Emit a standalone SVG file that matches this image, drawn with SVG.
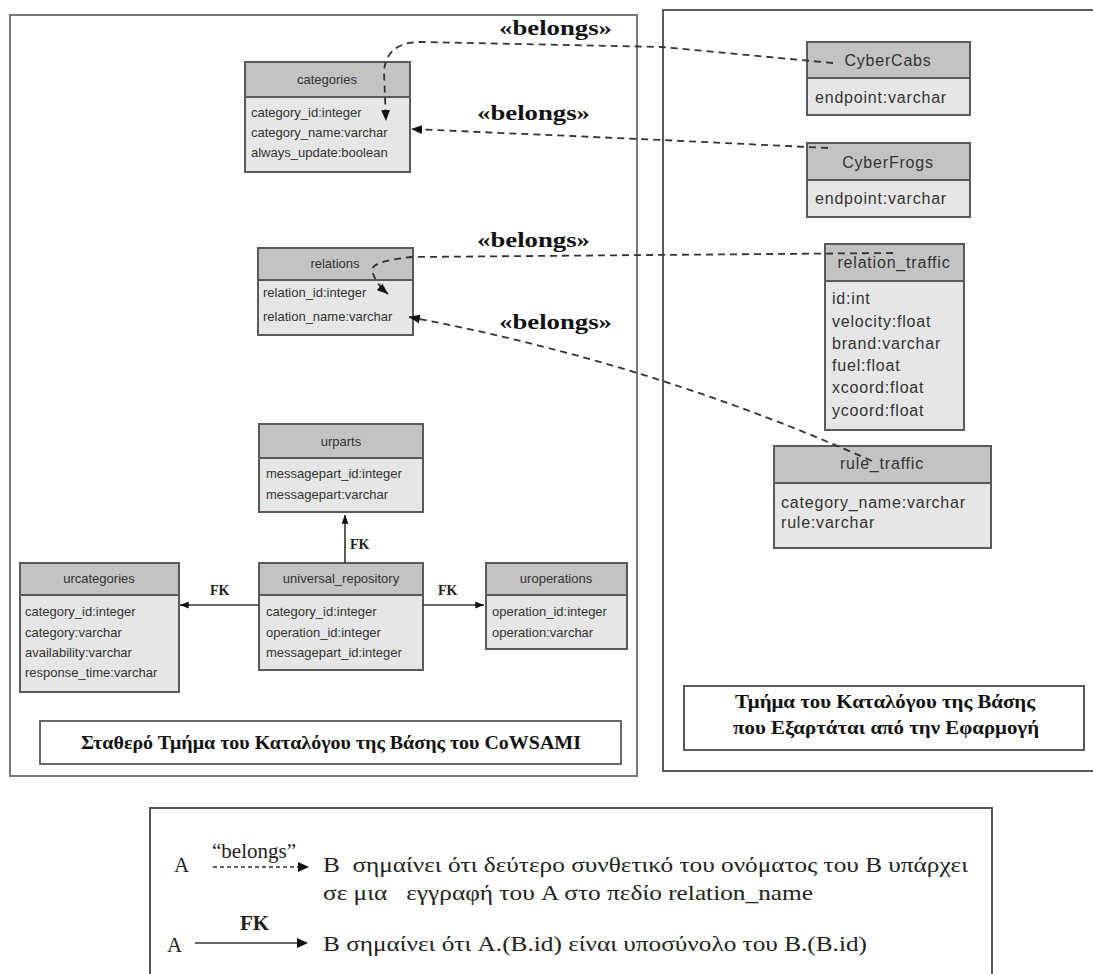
<svg xmlns="http://www.w3.org/2000/svg" width="1093" height="974" viewBox="0 0 1093 974">
  <style>
    .panel { fill: #ffffff; }
    .hdr { fill: #c3c3c3; stroke: #5a5a5a; stroke-width: 2; }
    .body { fill: #e6e6e6; stroke: #5a5a5a; stroke-width: 2; }
    .t { font-family: "Liberation Sans", Arial, sans-serif; font-size: 13px; fill: #333; }
    .tc { text-anchor: middle; }
    .tw { font-family: "Liberation Sans", Arial, sans-serif; font-size: 16px; fill: #333; letter-spacing: 0.8px; }
    .bel { font-family: "Liberation Serif", "Times New Roman", serif; font-size: 22px; font-weight: bold; fill: #111; }
    .fk { font-family: "Liberation Serif", "Times New Roman", serif; font-size: 14px; font-weight: bold; fill: #222; }
    .lbl { font-family: "Liberation Serif", "Times New Roman", serif; font-size: 18px; font-weight: bold; fill: #111; text-anchor: middle; }
    .leg { font-family: "Liberation Serif", "Times New Roman", serif; font-size: 21px; fill: #222; white-space: pre; }
    .dash { fill: none; stroke: #333; stroke-width: 1.8; stroke-dasharray: 7 5; }
    .solid { fill: none; stroke: #333; stroke-width: 1.6; }
  </style>
  <defs>
    <marker id="ah" viewBox="0 0 10 8" refX="10" refY="4" markerWidth="11" markerHeight="9" markerUnits="userSpaceOnUse" orient="auto">
      <path d="M0,0 L10,4 L0,8 z" fill="#111"/>
    </marker>
    <marker id="ahs" viewBox="0 0 10 8" refX="10" refY="4" markerWidth="9" markerHeight="7" markerUnits="userSpaceOnUse" orient="auto">
      <path d="M0,0 L10,4 L0,8 z" fill="#111"/>
    </marker>
  </defs>

  <rect width="1093" height="974" fill="#ffffff"/>

  <!-- fixed catalogue panel -->
  <g id="panel-fixed">
    <rect class="panel" x="10" y="15" width="627" height="761" stroke="#777" stroke-width="2"/>
    <rect x="40" y="721" width="581" height="43" fill="#fff" stroke="#444" stroke-width="1.6"/>
    <text class="lbl" x="331" y="749" textLength="500" lengthAdjust="spacingAndGlyphs">Σταθερό Τμήμα του Καταλόγου της Βάσης του CoWSAMI</text>
  </g>

  <!-- application dependent panel -->
  <g id="panel-app">
    <rect class="panel" x="663" y="10" width="445" height="761" stroke="#333" stroke-width="1.6"/>
    <rect x="684" y="686" width="400" height="64" fill="#fff" stroke="#333" stroke-width="1.6"/>
    <text class="lbl" x="885" y="708" textLength="300" lengthAdjust="spacingAndGlyphs">Τμήμα του Καταλόγου της Βάσης</text>
    <text class="lbl" x="886" y="734" textLength="306" lengthAdjust="spacingAndGlyphs">που Εξαρτάται από την Εφαρμογή</text>
  </g>

  <!-- tables -->
  <g id="categories">
    <rect class="body" x="245" y="62" width="165" height="110"/>
    <rect class="hdr" x="245" y="62" width="165" height="35"/>
    <text class="t tc" x="327" y="84">categories</text>
    <text class="t" x="251" y="117">category_id:integer</text>
    <text class="t" x="251" y="137">category_name:varchar</text>
    <text class="t" x="251" y="157">always_update:boolean</text>
  </g>

  <g id="relations">
    <rect class="body" x="258" y="248" width="155" height="87"/>
    <rect class="hdr" x="258" y="248" width="155" height="32"/>
    <text class="t tc" x="335" y="268">relations</text>
    <text class="t" x="263" y="297">relation_id:integer</text>
    <text class="t" x="263" y="321">relation_name:varchar</text>
  </g>

  <g id="urparts">
    <rect class="body" x="259" y="424" width="164" height="88"/>
    <rect class="hdr" x="259" y="424" width="164" height="34"/>
    <text class="t tc" x="341" y="446">urparts</text>
    <text class="t" x="266" y="478">messagepart_id:integer</text>
    <text class="t" x="266" y="499">messagepart:varchar</text>
  </g>

  <g id="universal_repository">
    <rect class="body" x="259" y="563" width="164" height="107"/>
    <rect class="hdr" x="259" y="563" width="164" height="32"/>
    <text class="t tc" x="341" y="583">universal_repository</text>
    <text class="t" x="266" y="616">category_id:integer</text>
    <text class="t" x="266" y="637">operation_id:integer</text>
    <text class="t" x="266" y="657">messagepart_id:integer</text>
  </g>

  <g id="urcategories">
    <rect class="body" x="20" y="563" width="159" height="129"/>
    <rect class="hdr" x="20" y="563" width="159" height="32"/>
    <text class="t tc" x="99" y="583">urcategories</text>
    <text class="t" x="25" y="616">category_id:integer</text>
    <text class="t" x="25" y="637">category:varchar</text>
    <text class="t" x="25" y="657">availability:varchar</text>
    <text class="t" x="25" y="677">response_time:varchar</text>
  </g>

  <g id="uroperations">
    <rect class="body" x="486" y="563" width="141" height="86"/>
    <rect class="hdr" x="486" y="563" width="141" height="32"/>
    <text class="t tc" x="556" y="583">uroperations</text>
    <text class="t" x="492" y="616">operation_id:integer</text>
    <text class="t" x="492" y="637">operation:varchar</text>
  </g>

  <g id="CyberCabs">
    <rect class="body" x="807" y="42" width="163" height="73"/>
    <rect class="hdr" x="807" y="42" width="163" height="36"/>
    <text class="tw tc" x="888" y="66">CyberCabs</text>
    <text class="tw" x="815" y="103">endpoint:varchar</text>
  </g>

  <g id="CyberFrogs">
    <rect class="body" x="807" y="143" width="163" height="74"/>
    <rect class="hdr" x="807" y="143" width="163" height="37"/>
    <text class="tw tc" x="888" y="168">CyberFrogs</text>
    <text class="tw" x="815" y="204">endpoint:varchar</text>
  </g>

  <g id="relation_traffic">
    <rect class="body" x="825" y="244" width="139" height="186"/>
    <rect class="hdr" x="825" y="244" width="139" height="37"/>
    <text class="tw tc" x="894" y="268">relation_traffic</text>
    <text class="tw" x="832" y="304">id:int</text>
    <text class="tw" x="832" y="327">velocity:float</text>
    <text class="tw" x="832" y="349">brand:varchar</text>
    <text class="tw" x="832" y="371">fuel:float</text>
    <text class="tw" x="832" y="393">xcoord:float</text>
    <text class="tw" x="832" y="416">ycoord:float</text>
  </g>

  <g id="rule_traffic">
    <rect class="body" x="774" y="446" width="217" height="102"/>
    <rect class="hdr" x="774" y="446" width="217" height="37"/>
    <text class="tw tc" x="882" y="469">rule_traffic</text>
    <text class="tw" x="781" y="508">category_name:varchar</text>
    <text class="tw" x="781" y="528">rule:varchar</text>
  </g>

  <!-- connectors -->
  <g id="connectors">
    <path class="dash" d="M 833 63 L 662 47 L 420 42 C 396 42 385 54 384 72 L 386 121" marker-end="url(#ah)"/>
    <path class="dash" d="M 828 148 L 662 140 L 411 129" marker-end="url(#ah)"/>
    <path class="dash" d="M 893 253 L 412 257 Q 372 261 372 270 Q 375 283 388 294" marker-end="url(#ah)"/>
    <path class="dash" d="M 872 461 Q 650 362 409 317" marker-end="url(#ah)"/>

    <path class="solid" d="M 345 563 L 345 515" marker-end="url(#ahs)"/>
    <path class="solid" d="M 259 605 L 180 605" marker-end="url(#ahs)"/>
    <path class="solid" d="M 423 605 L 484 605" marker-end="url(#ahs)"/>

    <text class="bel" x="499" y="35" textLength="113" lengthAdjust="spacingAndGlyphs">«belongs»</text>
    <text class="bel" x="477" y="120" textLength="113" lengthAdjust="spacingAndGlyphs">«belongs»</text>
    <text class="bel" x="477" y="247" textLength="113" lengthAdjust="spacingAndGlyphs">«belongs»</text>
    <text class="bel" x="499" y="329" textLength="113" lengthAdjust="spacingAndGlyphs">«belongs»</text>

    <text class="fk" x="350" y="549">FK</text>
    <text class="fk" x="210" y="595">FK</text>
    <text class="fk" x="438" y="595">FK</text>
  </g>

  <!-- legend -->
  <g id="legend">
    <rect x="150" y="808" width="842" height="180" fill="#fff" stroke="#555" stroke-width="2"/>
    <text class="leg" x="174" y="872">A</text>
    <text class="leg" x="212" y="858" font-size="19">“belongs”</text>
    <path d="M 213 867 L 299 867" fill="none" stroke="#333" stroke-width="1.4" stroke-dasharray="4 3"/>
    <path d="M 298 862 L 309 867 L 298 872 z" fill="#111"/>
    <text class="leg" x="323" y="872" textLength="645" lengthAdjust="spacingAndGlyphs" xml:space="preserve">B  σημαίνει ότι δεύτερο συνθετικό του ονόματος του B υπάρχει</text>
    <text class="leg" x="323" y="900" textLength="490" lengthAdjust="spacingAndGlyphs" xml:space="preserve">σε μια   εγγραφή του A στο πεδίο relation_name</text>
    <text class="leg" x="240" y="930" font-size="16" font-weight="bold">FK</text>
    <text class="leg" x="167" y="952">A</text>
    <path d="M 195 943 L 298 943" fill="none" stroke="#333" stroke-width="1.6"/>
    <path d="M 297 938 L 308 943 L 297 948 z" fill="#111"/>
    <text class="leg" x="323" y="951" textLength="544" lengthAdjust="spacingAndGlyphs">B σημαίνει ότι A.(B.id) είναι υποσύνολο του B.(B.id)</text>
  </g>
</svg>
